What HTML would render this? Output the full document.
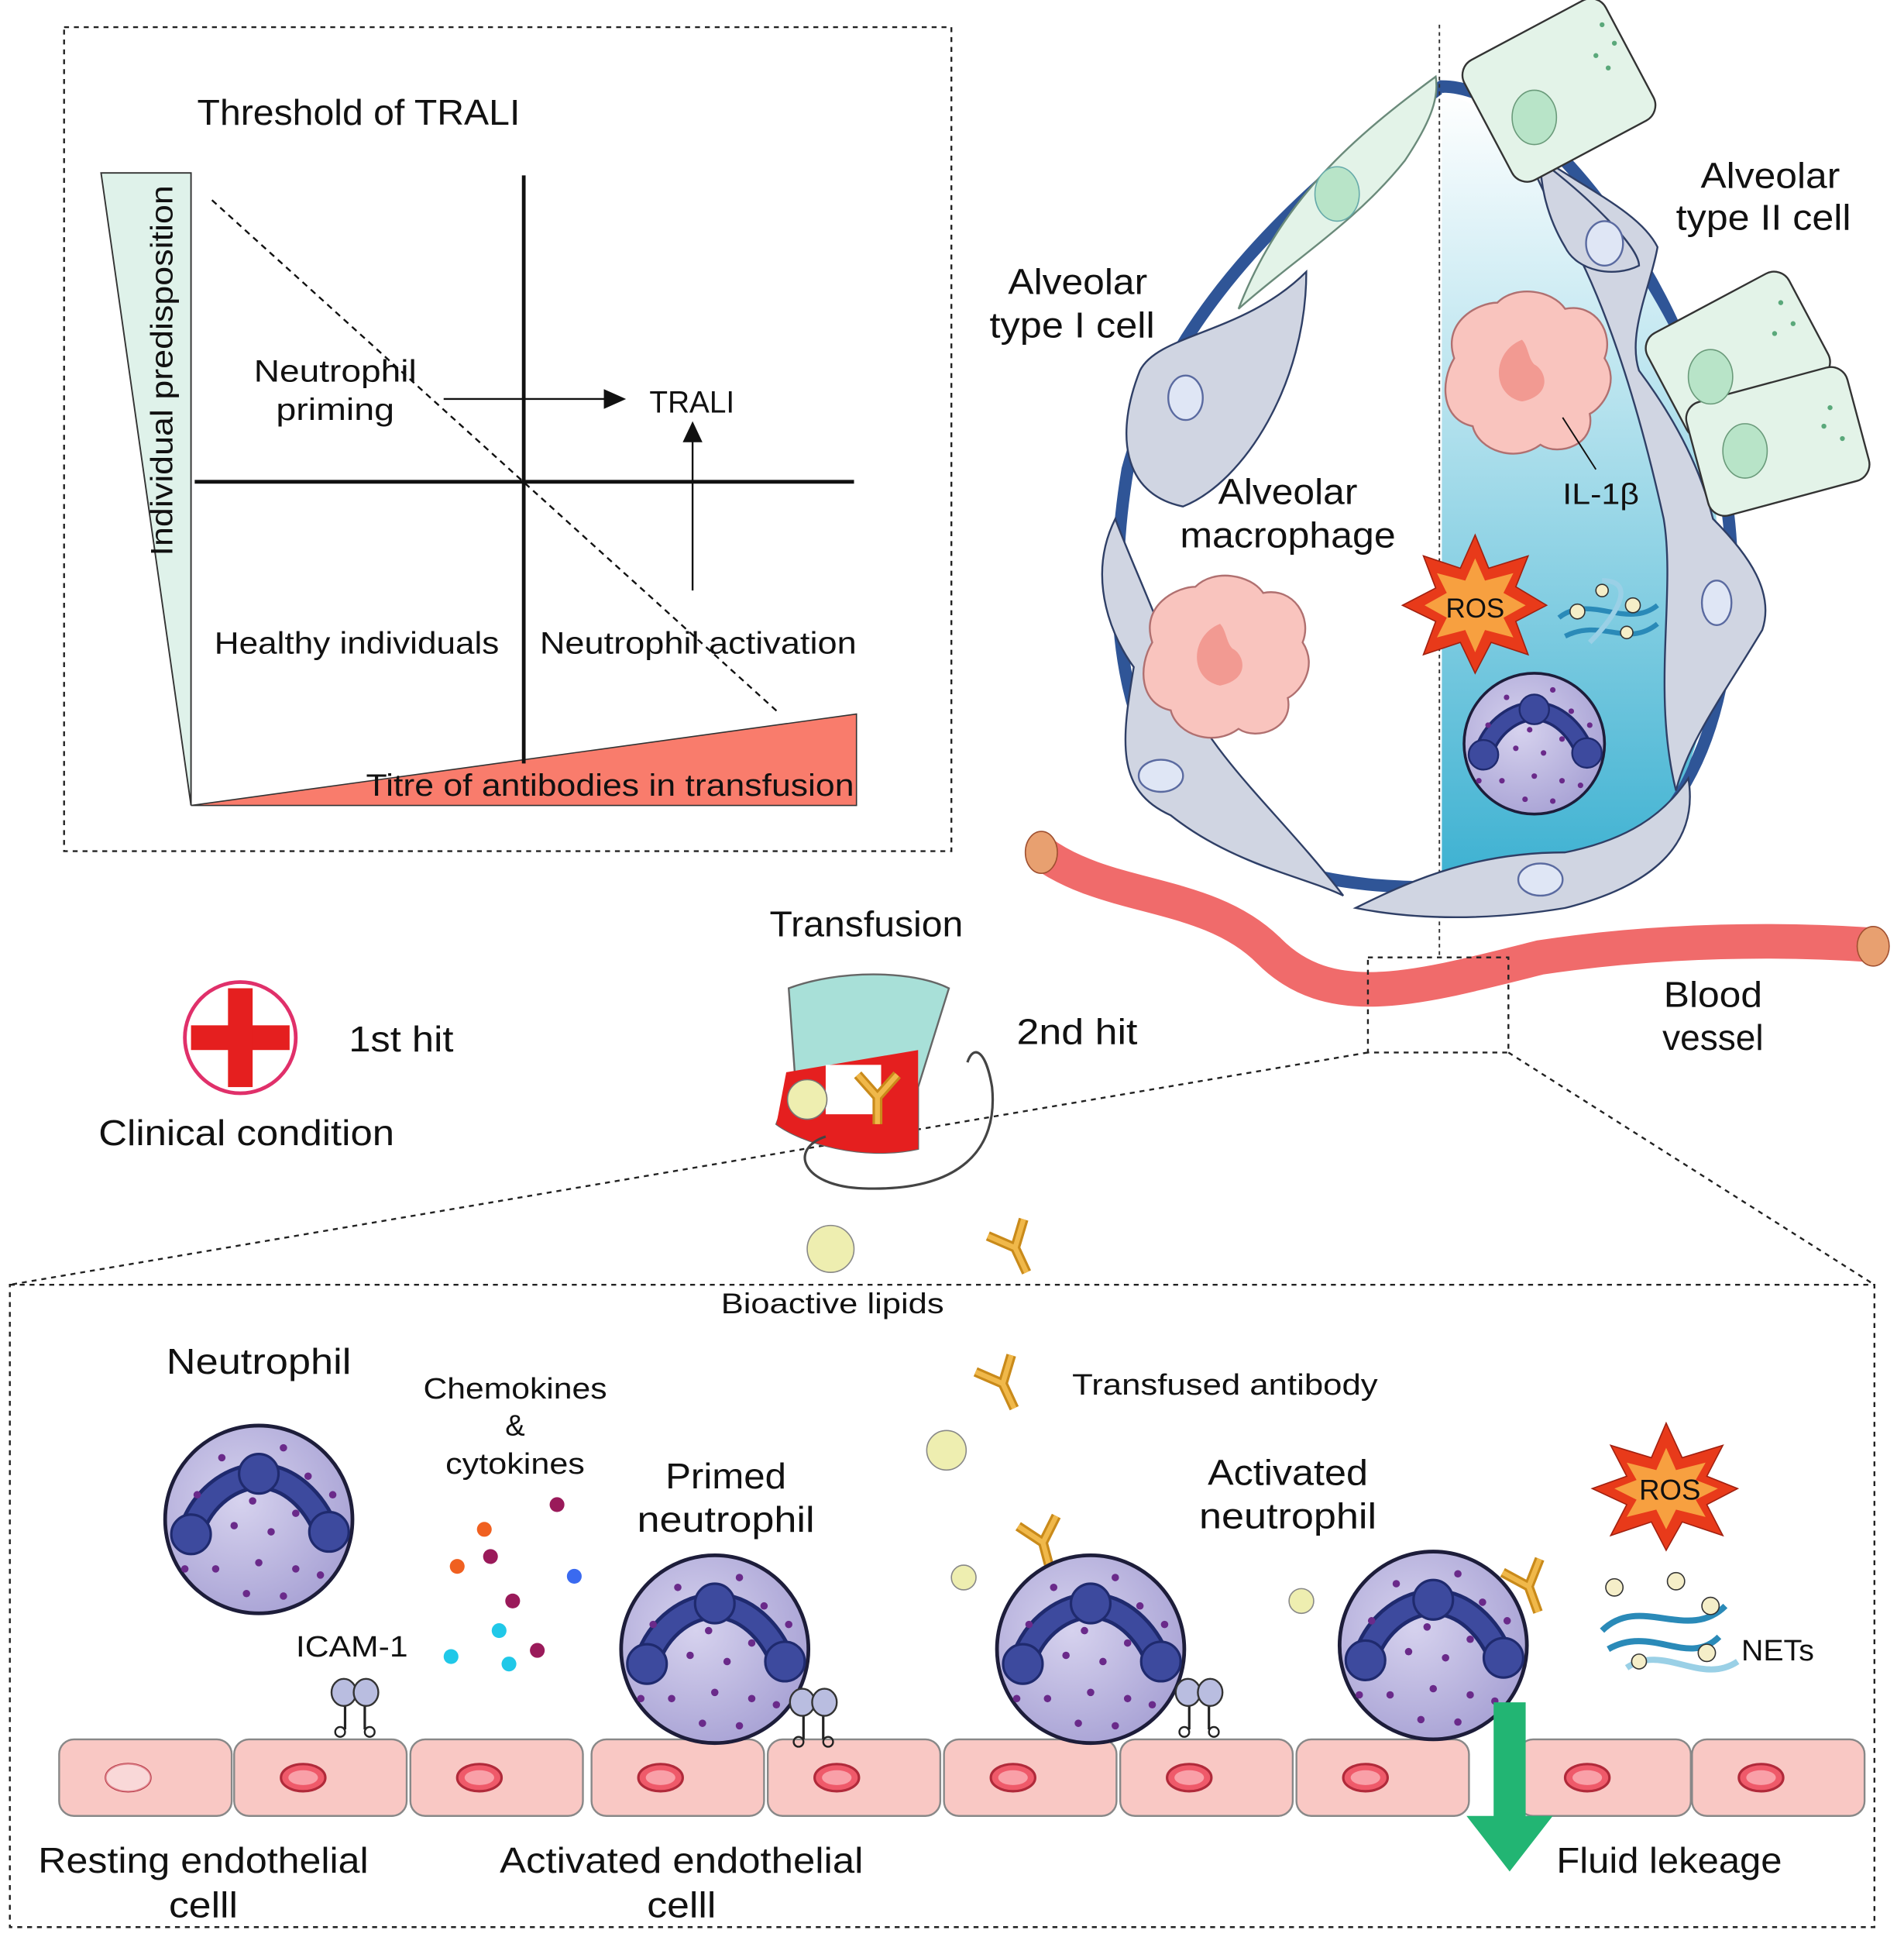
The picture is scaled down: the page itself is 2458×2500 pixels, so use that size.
<!DOCTYPE html>
<html><head><meta charset="utf-8"><style>
html,body{margin:0;padding:0;background:#fff}
svg{display:block}
text{font-family:"Liberation Sans","DejaVu Sans",sans-serif;fill:#111}
</style></head><body>
<svg width="2458" height="2500" viewBox="0 0 1545 1568" preserveAspectRatio="none" xmlns="http://www.w3.org/2000/svg">
<defs>
<linearGradient id="lum" x1="0" y1="0" x2="0" y2="1">
<stop offset="0" stop-color="#ffffff"/><stop offset="0.35" stop-color="#bfe6f0"/><stop offset="1" stop-color="#3fb2d2"/></linearGradient>
<radialGradient id="neu" cx="0.4" cy="0.4" r="0.7"><stop offset="0" stop-color="#d6d2ee"/><stop offset="1" stop-color="#a59fd3"/></radialGradient>
<g id="neut">
<circle r="76" fill="url(#neu)" stroke="#1d1d3a" stroke-width="3"/>
<path d="M-55,10 C-45,-20 -20,-35 0,-35 C25,-35 45,-15 55,10" fill="none" stroke="#1f2a6e" stroke-width="22"/>
<path d="M-55,10 C-45,-20 -20,-35 0,-35 C25,-35 45,-15 55,10" fill="none" stroke="#3d4a9e" stroke-width="16"/>
<circle cx="0" cy="-37" r="16" fill="#3d4a9e" stroke="#1f2a6e" stroke-width="2"/>
<circle cx="-55" cy="12" r="16" fill="#3d4a9e" stroke="#1f2a6e" stroke-width="2"/>
<circle cx="57" cy="10" r="16" fill="#3d4a9e" stroke="#1f2a6e" stroke-width="2"/>
<g fill="#6a2a8a">
<circle cx="-30" cy="-50" r="3"/><circle cx="20" cy="-58" r="3"/><circle cx="-50" cy="-20" r="3"/><circle cx="40" cy="-35" r="3"/>
<circle cx="-20" cy="5" r="3"/><circle cx="10" cy="10" r="3"/><circle cx="-35" cy="40" r="3"/><circle cx="0" cy="35" r="3"/>
<circle cx="30" cy="40" r="3"/><circle cx="-10" cy="60" r="3"/><circle cx="20" cy="62" r="3"/><circle cx="50" cy="45" r="3"/>
<circle cx="-60" cy="40" r="3"/><circle cx="-5" cy="-15" r="3"/><circle cx="30" cy="-5" r="3"/><circle cx="60" cy="-20" r="3"/>
</g></g>
<g id="endo">
<rect x="0" y="0" width="140" height="62" rx="12" fill="#f9c8c4" stroke="#888" stroke-width="1.5"/>
<ellipse cx="56" cy="31" rx="18" ry="11" fill="#ef5a6a" stroke="#b02a3a" stroke-width="2"/>
<ellipse cx="56" cy="31" rx="12" ry="6" fill="#f9a0a8"/>
</g>
<g id="ab">
<path d="M0,0 L0,-22 L-16,-40 M0,-22 L16,-40" fill="none" stroke="#c98a1a" stroke-width="8"/>
<path d="M0,0 L0,-22 L-16,-40 M0,-22 L16,-40" fill="none" stroke="#f0b84a" stroke-width="4"/>
</g>
<g id="icam">
<line x1="-8" y1="0" x2="-8" y2="30" stroke="#222" stroke-width="2"/><line x1="8" y1="0" x2="8" y2="30" stroke="#222" stroke-width="2"/>
<circle cx="-12" cy="32" r="4" fill="none" stroke="#222" stroke-width="1.5"/><circle cx="12" cy="32" r="4" fill="none" stroke="#222" stroke-width="1.5"/>
<ellipse cx="-9" cy="0" rx="10" ry="11" fill="#b9bde0" stroke="#333" stroke-width="1.5"/>
<ellipse cx="9" cy="0" rx="10" ry="11" fill="#b9bde0" stroke="#333" stroke-width="1.5"/>
</g>
<g id="mac">
<path d="M-60,-10 C-70,-40 -40,-55 -25,-55 C-10,-70 20,-65 30,-50 C55,-55 70,-30 62,-10 C75,10 60,30 50,35 C55,60 25,70 10,60 C-10,75 -40,65 -45,45 C-70,40 -72,10 -60,-10Z" fill="#f9c4be" stroke="#b07070" stroke-width="1.5"/>
<path d="M-5,-25 C-30,-15 -30,20 -5,25 C20,20 15,0 5,-5 C0,-10 0,-20 -5,-25Z" fill="#f29a92"/>
</g>
</defs>

<!-- Threshold box -->
<rect x="52" y="22" width="720" height="667" fill="none" stroke="#222" stroke-width="1.5" stroke-dasharray="4,4"/>
<text x="160" y="101" font-size="29" textLength="262" lengthAdjust="spacingAndGlyphs">Threshold of TRALI</text>
<polygon points="82,140 155,140 155,652" fill="#dff2ea" stroke="#333" stroke-width="1.2"/>
<polygon points="155,652 695,578 695,652" fill="#f97c6c" stroke="#333" stroke-width="1"/>
<line x1="425" y1="142" x2="425" y2="618" stroke="#111" stroke-width="3"/>
<line x1="158" y1="390" x2="693" y2="390" stroke="#111" stroke-width="3"/>
<line x1="172" y1="162" x2="633" y2="578" stroke="#111" stroke-width="1.5" stroke-dasharray="5,4"/>
<text transform="translate(140,300) rotate(-90)" text-anchor="middle" font-size="25" textLength="300" lengthAdjust="spacingAndGlyphs">Individual predisposition</text>
<text x="272" y="309" text-anchor="middle" font-size="25" textLength="132" lengthAdjust="spacingAndGlyphs">Neutrophil</text>
<text x="272" y="340" text-anchor="middle" font-size="25" textLength="96" lengthAdjust="spacingAndGlyphs">priming</text>
<line x1="360" y1="323" x2="492" y2="323" stroke="#111" stroke-width="1.5"/>
<polygon points="508,323 490,315 490,331" fill="#111"/>
<text x="527" y="334" font-size="25" textLength="69" lengthAdjust="spacingAndGlyphs">TRALI</text>
<line x1="562" y1="478" x2="562" y2="356" stroke="#111" stroke-width="1.5"/>
<polygon points="562,341 554,358 570,358" fill="#111"/>
<text x="174" y="529" font-size="25" textLength="231" lengthAdjust="spacingAndGlyphs">Healthy individuals</text>
<text x="438" y="529" font-size="25" textLength="257" lengthAdjust="spacingAndGlyphs">Neutrophil activation</text>
<text x="297" y="644" font-size="25" textLength="396" lengthAdjust="spacingAndGlyphs">Titre of antibodies in transfusion</text>

<!-- Alveolus -->
<path d="M1170,70 C1060,150 950,250 915,380 C895,500 910,620 990,680 C1060,720 1150,725 1260,712 C1360,690 1400,600 1405,480 C1410,340 1340,200 1260,120 C1230,90 1200,70 1170,70Z" fill="#fff" stroke="#2f5597" stroke-width="10"/>
<path d="M1170,75 C1230,90 1330,190 1380,320 C1400,420 1400,540 1370,620 C1340,690 1280,710 1170,705Z" fill="url(#lum)"/>
<line x1="1168" y1="20" x2="1168" y2="775" stroke="#333" stroke-width="1.2" stroke-dasharray="3,3"/>
<path d="M1165,62 C1100,110 1040,160 1005,250 C1050,210 1100,180 1140,130 C1160,100 1168,80 1165,62Z" fill="#e3f3e8" stroke="#6a8a7a" stroke-width="1.5"/>
<ellipse cx="1085" cy="157" rx="18" ry="22" fill="#b8e4c8" stroke="#6aa"/>
<g fill="#d0d5e2" stroke="#2f3f66" stroke-width="1.5">
<path d="M1060,220 C1010,270 940,270 925,300 C905,350 910,400 960,410 C1010,390 1060,310 1060,220Z"/>
<path d="M905,420 C880,470 905,520 920,540 C910,600 905,640 950,660 C1000,700 1060,710 1090,725 C1040,660 990,620 960,560 C940,500 920,460 905,420Z"/>
<path d="M1100,735 C1150,710 1200,690 1270,690 C1320,680 1350,660 1370,630 C1380,690 1330,720 1270,735 C1210,745 1150,745 1100,735Z"/>
<path d="M1240,120 C1280,150 1330,170 1345,200 C1340,230 1320,270 1330,300 C1360,340 1380,380 1390,420 C1420,450 1440,480 1430,510 C1400,560 1370,600 1360,640 C1340,560 1360,480 1350,420 C1330,330 1300,230 1260,170 C1250,150 1240,130 1240,120Z"/>
<path d="M1250,130 C1290,160 1330,200 1330,215 C1310,225 1280,220 1270,200 C1255,175 1250,150 1250,130Z"/>
</g>
<g fill="#dfe6f5" stroke="#5a6aa0" stroke-width="1.5">
<ellipse cx="962" cy="322" rx="14" ry="18"/><ellipse cx="942" cy="628" rx="18" ry="13"/><ellipse cx="1250" cy="712" rx="18" ry="13"/>
<ellipse cx="1302" cy="197" rx="15" ry="18"/><ellipse cx="1393" cy="488" rx="12" ry="18"/>
</g>
<g fill="#e3f3e8" stroke="#333" stroke-width="1.5">
<rect x="1200" y="18" width="130" height="110" rx="14" transform="rotate(-28 1265 73)"/>
<rect x="1345" y="240" width="130" height="95" rx="14" transform="rotate(-28 1410 287)"/>
<rect x="1375" y="310" width="135" height="95" rx="14" transform="rotate(-15 1442 357)"/>
</g>
<g fill="#b8e4c8" stroke="#6a9a7a"><ellipse cx="1245" cy="95" rx="18" ry="22"/><ellipse cx="1388" cy="305" rx="18" ry="22"/><ellipse cx="1416" cy="365" rx="18" ry="22"/></g>
<g fill="#5aa87a"><circle cx="1300" cy="20" r="2"/><circle cx="1310" cy="35" r="2"/><circle cx="1295" cy="45" r="2"/><circle cx="1305" cy="55" r="2"/><circle cx="1445" cy="245" r="2"/><circle cx="1455" cy="262" r="2"/><circle cx="1440" cy="270" r="2"/><circle cx="1485" cy="330" r="2"/><circle cx="1480" cy="345" r="2"/><circle cx="1495" cy="355" r="2"/></g>
<use href="#mac" x="1240" y="300"/>
<use href="#mac" x="995" y="530"/>
<line x1="1268" y1="338" x2="1295" y2="380" stroke="#111" stroke-width="1.2"/>
<text x="1268" y="408" font-size="24" textLength="62" lengthAdjust="spacingAndGlyphs">IL-1β</text>
<polygon points="1197,433 1208,460 1240,450 1230,475 1255,490 1230,503 1240,530 1210,520 1197,545 1185,520 1155,530 1165,503 1138,490 1165,476 1155,450 1185,460" fill="#e83a1a" stroke="#a02010"/>
<polygon points="1197,452 1205,470 1228,464 1220,480 1238,490 1220,500 1228,516 1205,510 1197,528 1189,510 1166,516 1174,500 1156,490 1174,480 1166,464 1189,470" fill="#f7a040"/>
<text x="1197" y="500" text-anchor="middle" font-size="22">ROS</text>
<g stroke="#2a8ab8" stroke-width="4" fill="none"><path d="M1265,500 C1290,480 1320,510 1345,490"/><path d="M1270,515 C1300,500 1320,525 1345,505"/><path d="M1290,520 C1310,500 1330,470 1300,470" stroke="#9ad0e6"/></g>
<g fill="#f5eec8" stroke="#333"><circle cx="1280" cy="495" r="6"/><circle cx="1325" cy="490" r="6"/><circle cx="1300" cy="478" r="5"/><circle cx="1320" cy="512" r="5"/></g>
<use href="#neut" transform="translate(1245,602) scale(0.75)"/>
<path d="M845,690 C900,730 980,720 1030,770 C1080,820 1150,800 1250,775 C1350,760 1450,760 1520,765" fill="none" stroke="#f06b6b" stroke-width="28" stroke-linecap="butt"/>
<ellipse cx="845" cy="690" rx="13" ry="17" fill="#e8a070" stroke="#a05030"/>
<ellipse cx="1520" cy="766" rx="13" ry="16" fill="#e8a070" stroke="#a05030"/>
<text x="1380" y="152" font-size="29" textLength="113" lengthAdjust="spacingAndGlyphs">Alveolar</text>
<text x="1360" y="186" font-size="29" textLength="142" lengthAdjust="spacingAndGlyphs">type II cell</text>
<text x="818" y="238" font-size="29" textLength="113" lengthAdjust="spacingAndGlyphs">Alveolar</text>
<text x="803" y="273" font-size="29" textLength="134" lengthAdjust="spacingAndGlyphs">type I cell</text>
<text x="1045" y="408" text-anchor="middle" font-size="29" textLength="113" lengthAdjust="spacingAndGlyphs">Alveolar</text>
<text x="1045" y="443" text-anchor="middle" font-size="29" textLength="175" lengthAdjust="spacingAndGlyphs">macrophage</text>
<text x="1390" y="815" text-anchor="middle" font-size="29" textLength="80" lengthAdjust="spacingAndGlyphs">Blood</text>
<text x="1390" y="850" text-anchor="middle" font-size="29" textLength="82" lengthAdjust="spacingAndGlyphs">vessel</text>

<rect x="1110" y="775" width="114" height="77" fill="none" stroke="#222" stroke-width="1.5" stroke-dasharray="4,4"/>
<line x1="1110" y1="852" x2="8" y2="1040" stroke="#222" stroke-width="1.5" stroke-dasharray="4,4"/>
<line x1="1224" y1="852" x2="1521" y2="1040" stroke="#222" stroke-width="1.5" stroke-dasharray="4,4"/>

<text x="703" y="758" text-anchor="middle" font-size="29" textLength="157" lengthAdjust="spacingAndGlyphs">Transfusion</text>
<path d="M640,800 C680,785 740,785 770,800 L745,880 L745,930 C700,940 650,925 630,910 L645,870Z" fill="#a8e0d8" stroke="#666" stroke-width="1.5"/>
<path d="M638,868 L745,850 L745,930 C700,940 650,925 630,910Z" fill="#e51f1f"/>
<rect x="670" y="862" width="45" height="40" fill="#fff"/>
<path d="M670,920 C640,930 650,960 700,962 C780,965 810,930 805,880 C800,850 790,845 785,860" fill="none" stroke="#444" stroke-width="2"/>
<circle cx="655" cy="890" r="16" fill="#eeeeb0" stroke="#777"/>
<use href="#ab" transform="translate(712,910)"/>
<text x="825" y="845" font-size="29" textLength="98" lengthAdjust="spacingAndGlyphs">2nd hit</text>
<circle cx="195" cy="840" r="45" fill="#fff" stroke="#e0306a" stroke-width="3"/>
<rect x="155" y="830" width="80" height="20" fill="#e51f1f"/><rect x="185" y="800" width="20" height="80" fill="#e51f1f"/>
<text x="283" y="851" font-size="29" textLength="85" lengthAdjust="spacingAndGlyphs">1st hit</text>
<text x="80" y="927" font-size="29" textLength="240" lengthAdjust="spacingAndGlyphs">Clinical condition</text>
<circle cx="674" cy="1011" r="19" fill="#eeeeb0" stroke="#888"/>
<use href="#ab" transform="translate(833,1030) rotate(-25)"/>

<rect x="8" y="1040" width="1513" height="520" fill="none" stroke="#222" stroke-width="1.5" stroke-dasharray="4,4"/>
<text x="585" y="1063" font-size="23" textLength="181" lengthAdjust="spacingAndGlyphs">Bioactive lipids</text>
<use href="#ab" transform="translate(823,1140) rotate(-25)"/>
<text x="870" y="1129" font-size="24" textLength="248" lengthAdjust="spacingAndGlyphs">Transfused antibody</text>
<circle cx="768" cy="1174" r="16" fill="#eeeeb0" stroke="#888"/>
<circle cx="782" cy="1277" r="10" fill="#eeeeb0" stroke="#888"/>
<circle cx="1056" cy="1296" r="10" fill="#eeeeb0" stroke="#888"/>
<use href="#ab" transform="translate(852,1270) rotate(-15)"/>
<use href="#ab" transform="translate(1248,1305) rotate(-20)"/>
<text x="210" y="1112" text-anchor="middle" font-size="29" textLength="150" lengthAdjust="spacingAndGlyphs">Neutrophil</text>
<text x="418" y="1132" text-anchor="middle" font-size="24" textLength="149" lengthAdjust="spacingAndGlyphs">Chemokines</text>
<text x="418" y="1162" text-anchor="middle" font-size="24">&amp;</text>
<text x="418" y="1193" text-anchor="middle" font-size="24" textLength="113" lengthAdjust="spacingAndGlyphs">cytokines</text>
<g><circle cx="452" cy="1218" r="6" fill="#9a1a5a"/><circle cx="393" cy="1238" r="6" fill="#f06020"/><circle cx="398" cy="1260" r="6" fill="#9a1a5a"/><circle cx="371" cy="1268" r="6" fill="#f06020"/><circle cx="466" cy="1276" r="6" fill="#3a6af0"/><circle cx="416" cy="1296" r="6" fill="#9a1a5a"/><circle cx="405" cy="1320" r="6" fill="#20c8e8"/><circle cx="436" cy="1336" r="6" fill="#9a1a5a"/><circle cx="366" cy="1341" r="6" fill="#20c8e8"/><circle cx="413" cy="1347" r="6" fill="#20c8e8"/></g>
<text x="589" y="1205" text-anchor="middle" font-size="29" textLength="98" lengthAdjust="spacingAndGlyphs">Primed</text>
<text x="589" y="1240" text-anchor="middle" font-size="29" textLength="144" lengthAdjust="spacingAndGlyphs">neutrophil</text>
<text x="1045" y="1202" text-anchor="middle" font-size="29" textLength="130" lengthAdjust="spacingAndGlyphs">Activated</text>
<text x="1045" y="1237" text-anchor="middle" font-size="29" textLength="144" lengthAdjust="spacingAndGlyphs">neutrophil</text>
<text x="240" y="1341" font-size="24" textLength="91" lengthAdjust="spacingAndGlyphs">ICAM-1</text>
<use href="#neut" x="210" y="1230"/>
<polygon points="1352,1152 1365,1180 1398,1170 1385,1195 1410,1205 1385,1218 1398,1243 1365,1232 1352,1255 1340,1232 1307,1243 1320,1218 1292,1205 1320,1195 1307,1170 1340,1180" fill="#e83a1a" stroke="#a02010"/>
<polygon points="1352,1172 1360,1190 1384,1184 1376,1198 1394,1205 1376,1214 1384,1228 1360,1222 1352,1238 1344,1222 1320,1228 1328,1214 1310,1205 1328,1198 1320,1184 1344,1190" fill="#f7a040"/>
<text x="1355" y="1214" text-anchor="middle" font-size="23">ROS</text>
<g stroke="#2a8ab8" stroke-width="5" fill="none"><path d="M1300,1320 C1330,1290 1370,1330 1400,1300"/><path d="M1305,1335 C1340,1315 1370,1350 1395,1325"/><path d="M1320,1350 C1350,1330 1380,1365 1410,1345" stroke="#9ad0e6"/></g>
<g fill="#f5eec8" stroke="#333"><circle cx="1310" cy="1285" r="7"/><circle cx="1360" cy="1280" r="7"/><circle cx="1388" cy="1300" r="7"/><circle cx="1385" cy="1338" r="7"/><circle cx="1330" cy="1345" r="6"/></g>
<text x="1413" y="1344" font-size="24" textLength="59" lengthAdjust="spacingAndGlyphs">NETs</text>
<use href="#endo" x="48" y="1408"/><use href="#endo" x="190" y="1408"/><use href="#endo" x="333" y="1408"/><use href="#endo" x="480" y="1408"/><use href="#endo" x="623" y="1408"/><use href="#endo" x="766" y="1408"/><use href="#endo" x="909" y="1408"/><use href="#endo" x="1052" y="1408"/><use href="#endo" x="1232" y="1408"/><use href="#endo" x="1373" y="1408"/>
<ellipse cx="104" cy="1439" rx="18" ry="11" fill="#f9d8d8" stroke="#e08890"/>
<use href="#neut" x="580" y="1335"/>
<use href="#neut" x="885" y="1335"/>
<use href="#neut" x="1163" y="1332"/>
<use href="#icam" x="288" y="1370"/>
<use href="#icam" x="660" y="1378"/>
<use href="#icam" x="973" y="1370"/>
<polygon points="1212,1378 1238,1378 1238,1470 1260,1470 1225,1515 1190,1470 1212,1470" fill="#22b573"/>
<text x="165" y="1516" text-anchor="middle" font-size="29" textLength="268" lengthAdjust="spacingAndGlyphs">Resting endothelial</text>
<text x="165" y="1552" text-anchor="middle" font-size="29" textLength="56" lengthAdjust="spacingAndGlyphs">celll</text>
<text x="553" y="1516" text-anchor="middle" font-size="29" textLength="295" lengthAdjust="spacingAndGlyphs">Activated endothelial</text>
<text x="553" y="1552" text-anchor="middle" font-size="29" textLength="56" lengthAdjust="spacingAndGlyphs">celll</text>
<text x="1263" y="1516" font-size="29" textLength="183" lengthAdjust="spacingAndGlyphs">Fluid lekeage</text>
</svg>
</body></html>
